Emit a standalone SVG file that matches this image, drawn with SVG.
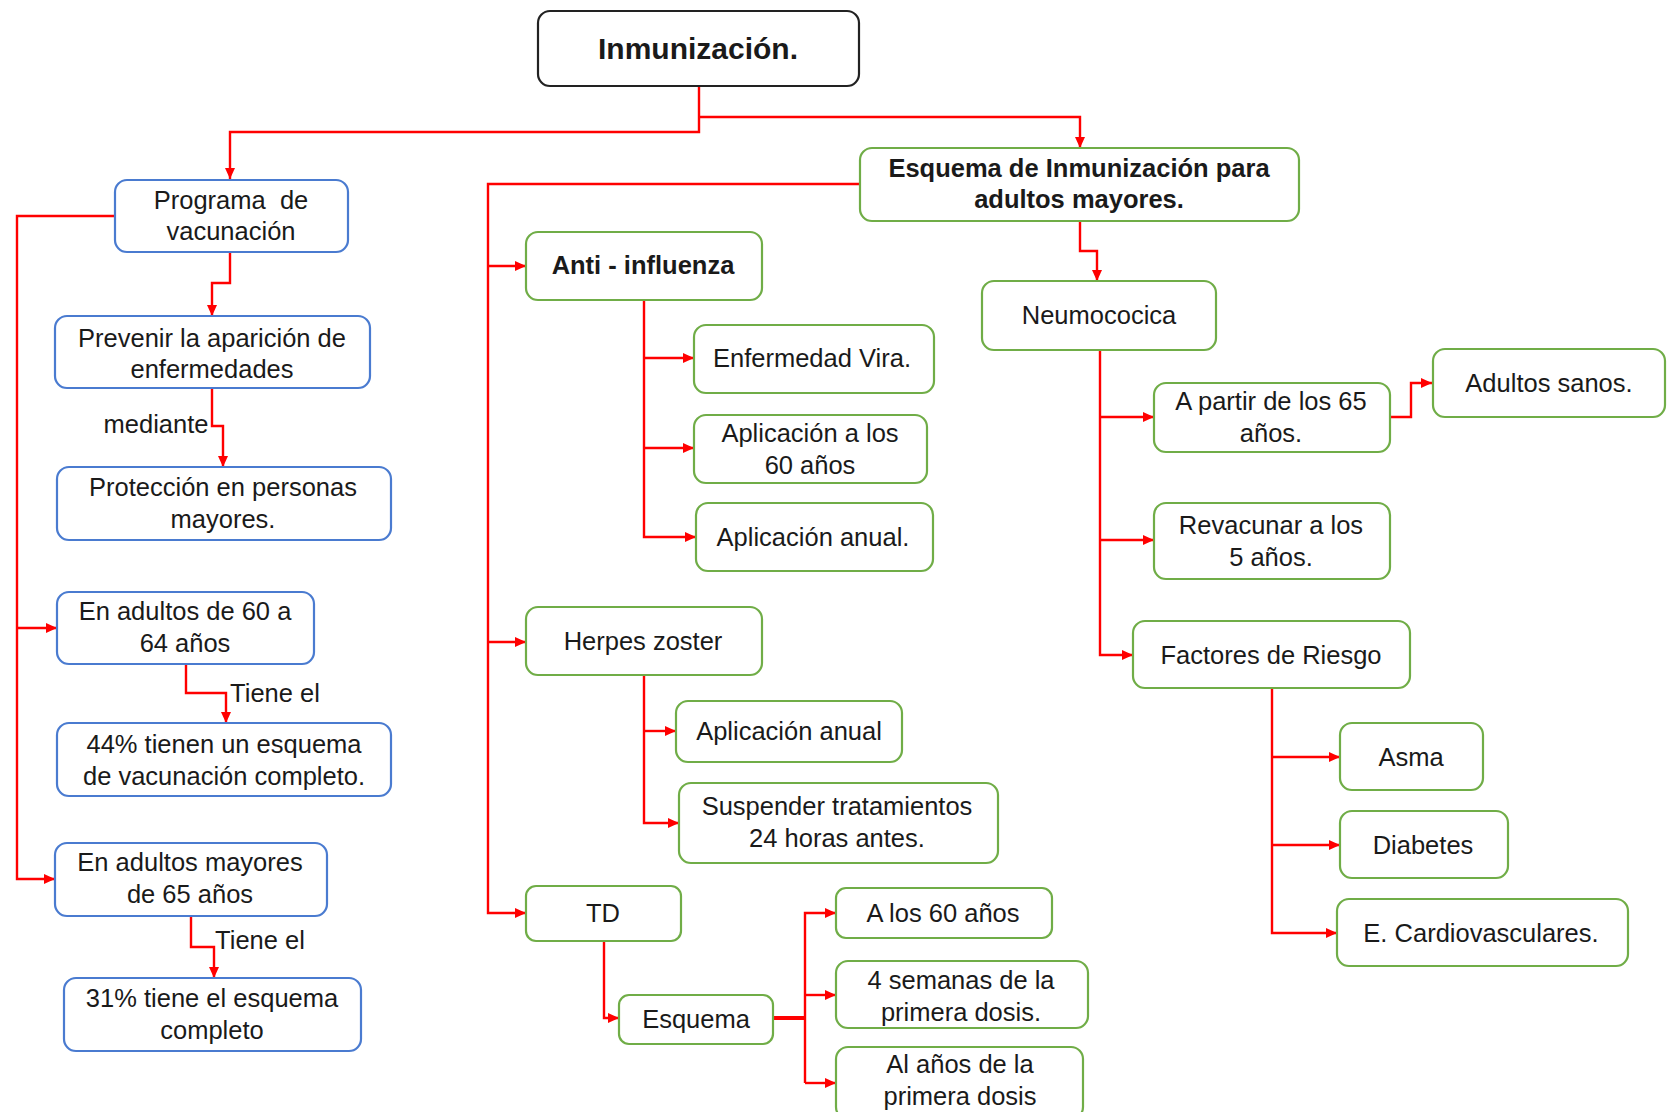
<svg xmlns="http://www.w3.org/2000/svg" width="1667" height="1112" viewBox="0 0 1667 1112">
<defs>
<marker id="arr" markerUnits="userSpaceOnUse" markerWidth="11" markerHeight="10" refX="11" refY="5" orient="auto">
<path d="M0,0 L11,5 L0,10 z" fill="#FF0000"/>
</marker>
<style>
.b{fill:#fff;stroke:#4A7BD0;stroke-width:2.2}
.g{fill:#fff;stroke:#70AD47;stroke-width:2.2}
.k{fill:#fff;stroke:#222;stroke-width:2.2}
text{font-family:"Liberation Sans",Arial,sans-serif;font-size:25.5px;fill:#1a1a1a;text-anchor:middle;dominant-baseline:central}
.bold{font-weight:bold}
.c{fill:none;stroke:#FF0000;stroke-width:2.4}
.ca{fill:none;stroke:#FF0000;stroke-width:2.4;marker-end:url(#arr)}
</style>
</defs>
<rect width="1667" height="1112" fill="#fff"/>
<g id="connectors">
<path class="ca" d="M699,86 V132 H230 V179"/>
<path class="ca" d="M699,117 H1080 V148"/>
<path class="ca" d="M230,252 V283 H212 V316"/>
<path class="ca" d="M115,216 H17 V879 H55"/>
<path class="ca" d="M17,628 H57"/>
<path class="ca" d="M212,388 V426 H223 V467"/>
<path class="ca" d="M186,664 V693 H226 V723"/>
<path class="ca" d="M191,916 V947 H214 V978"/>
<path class="ca" d="M860,184 H488 V913 H526"/>
<path class="ca" d="M488,266 H526"/>
<path class="ca" d="M488,642 H526"/>
<path class="ca" d="M644,300 V537 H696"/>
<path class="ca" d="M644,358 H694"/>
<path class="ca" d="M644,448 H694"/>
<path class="ca" d="M644,675 V823 H679"/>
<path class="ca" d="M644,731 H676"/>
<path class="ca" d="M604,941 V1018 H619"/>
<path class="c" d="M773,1018 H805" style="stroke-width:4"/>
<path class="ca" d="M805,1083 V913 H836"/>
<path class="ca" d="M805,995 H836"/>
<path class="ca" d="M805,1083 H836"/>
<path class="ca" d="M1080,221 V251 H1097 V281"/>
<path class="ca" d="M1100,350 V655 H1133"/>
<path class="ca" d="M1100,417 H1154"/>
<path class="ca" d="M1100,540 H1154"/>
<path class="ca" d="M1390,417 H1411 V383 H1432"/>
<path class="ca" d="M1272,688 V933 H1337"/>
<path class="ca" d="M1272,757 H1340"/>
<path class="ca" d="M1272,845 H1340"/>
</g>
<g id="label-mediante"><text x="156" y="424">mediante</text></g>
<g id="label-tiene1"><text x="275" y="693">Tiene el</text></g>
<g id="label-tiene2"><text x="260" y="940">Tiene el</text></g>

<g id="n-inmunizacion"><rect class="k" x="538" y="11" width="321" height="75" rx="12"/><text class="bold" x="698" y="48" style="font-size:30px">Inmunización.</text></g>
<g id="n-programa"><rect class="b" x="115" y="180" width="233" height="72" rx="12"/><text x="231" y="200" xml:space="preserve">Programa  de</text><text x="231" y="231">vacunación</text></g>
<g id="n-prevenir"><rect class="b" x="55" y="316" width="315" height="72" rx="12"/><text x="212" y="338">Prevenir la aparición de</text><text x="212" y="369">enfermedades</text></g>
<g id="n-proteccion"><rect class="b" x="57" y="467" width="334" height="73" rx="12"/><text x="223" y="487">Protección en personas</text><text x="223" y="519">mayores.</text></g>
<g id="n-adultos6064"><rect class="b" x="57" y="592" width="257" height="72" rx="12"/><text x="185" y="611">En adultos de 60 a</text><text x="185" y="643">64 años</text></g>
<g id="n-44"><rect class="b" x="57" y="723" width="334" height="73" rx="12"/><text x="224" y="744">44% tienen un esquema</text><text x="224" y="776">de vacunación completo.</text></g>
<g id="n-adultos65"><rect class="b" x="55" y="843" width="272" height="73" rx="12"/><text x="190" y="862">En adultos mayores</text><text x="190" y="894">de 65 años</text></g>
<g id="n-31"><rect class="b" x="64" y="978" width="297" height="73" rx="12"/><text x="212" y="998">31% tiene el esquema</text><text x="212" y="1030">completo</text></g>

<g id="n-esquema-inm"><rect class="g" x="860" y="148" width="439" height="73" rx="12"/><text class="bold" x="1079" y="168">Esquema de Inmunización para</text><text class="bold" x="1079" y="199">adultos mayores.</text></g>
<g id="n-anti"><rect class="g" x="526" y="232" width="236" height="68" rx="12"/><text class="bold" x="643" y="265">Anti - influenza</text></g>
<g id="n-enfermedad"><rect class="g" x="694" y="325" width="240" height="68" rx="12"/><text x="812" y="358">Enfermedad Vira.</text></g>
<g id="n-aplic60"><rect class="g" x="694" y="415" width="233" height="68" rx="12"/><text x="810" y="433">Aplicación a los</text><text x="810" y="465">60 años</text></g>
<g id="n-aplicanual1"><rect class="g" x="696" y="503" width="237" height="68" rx="12"/><text x="813" y="537">Aplicación anual.</text></g>
<g id="n-herpes"><rect class="g" x="526" y="607" width="236" height="68" rx="12"/><text x="643" y="641">Herpes zoster</text></g>
<g id="n-aplicanual2"><rect class="g" x="676" y="701" width="226" height="61" rx="12"/><text x="789" y="731">Aplicación anual</text></g>
<g id="n-suspender"><rect class="g" x="679" y="783" width="319" height="80" rx="12"/><text x="837" y="806">Suspender tratamientos</text><text x="837" y="838">24 horas antes.</text></g>
<g id="n-td"><rect class="g" x="526" y="886" width="155" height="55" rx="10"/><text x="603" y="913">TD</text></g>
<g id="n-esquema"><rect class="g" x="619" y="995" width="154" height="49" rx="10"/><text x="696" y="1019">Esquema</text></g>
<g id="n-a60"><rect class="g" x="836" y="888" width="216" height="50" rx="10"/><text x="943" y="913">A los 60 años</text></g>
<g id="n-4semanas"><rect class="g" x="836" y="961" width="252" height="67" rx="12"/><text x="961" y="980">4 semanas de la</text><text x="961" y="1012">primera dosis.</text></g>
<g id="n-alanos"><rect class="g" x="836" y="1047" width="247" height="72" rx="12"/><text x="960" y="1064">Al años de la</text><text x="960" y="1096">primera dosis</text></g>

<g id="n-neumococica"><rect class="g" x="982" y="281" width="234" height="69" rx="12"/><text x="1099" y="315">Neumococica</text></g>
<g id="n-apartir"><rect class="g" x="1154" y="383" width="236" height="69" rx="12"/><text x="1271" y="401">A partir de los 65</text><text x="1271" y="433">años.</text></g>
<g id="n-sanos"><rect class="g" x="1433" y="349" width="232" height="68" rx="12"/><text x="1549" y="383">Adultos sanos.</text></g>
<g id="n-revacunar"><rect class="g" x="1154" y="503" width="236" height="76" rx="12"/><text x="1271" y="525">Revacunar a los</text><text x="1271" y="557">5 años.</text></g>
<g id="n-factores"><rect class="g" x="1133" y="621" width="277" height="67" rx="12"/><text x="1271" y="655">Factores de Riesgo</text></g>
<g id="n-asma"><rect class="g" x="1340" y="723" width="143" height="67" rx="12"/><text x="1411" y="757">Asma</text></g>
<g id="n-diabetes"><rect class="g" x="1340" y="811" width="168" height="67" rx="12"/><text x="1423" y="845">Diabetes</text></g>
<g id="n-cardio"><rect class="g" x="1337" y="899" width="291" height="67" rx="12"/><text x="1481" y="933">E. Cardiovasculares.</text></g>
</svg>
